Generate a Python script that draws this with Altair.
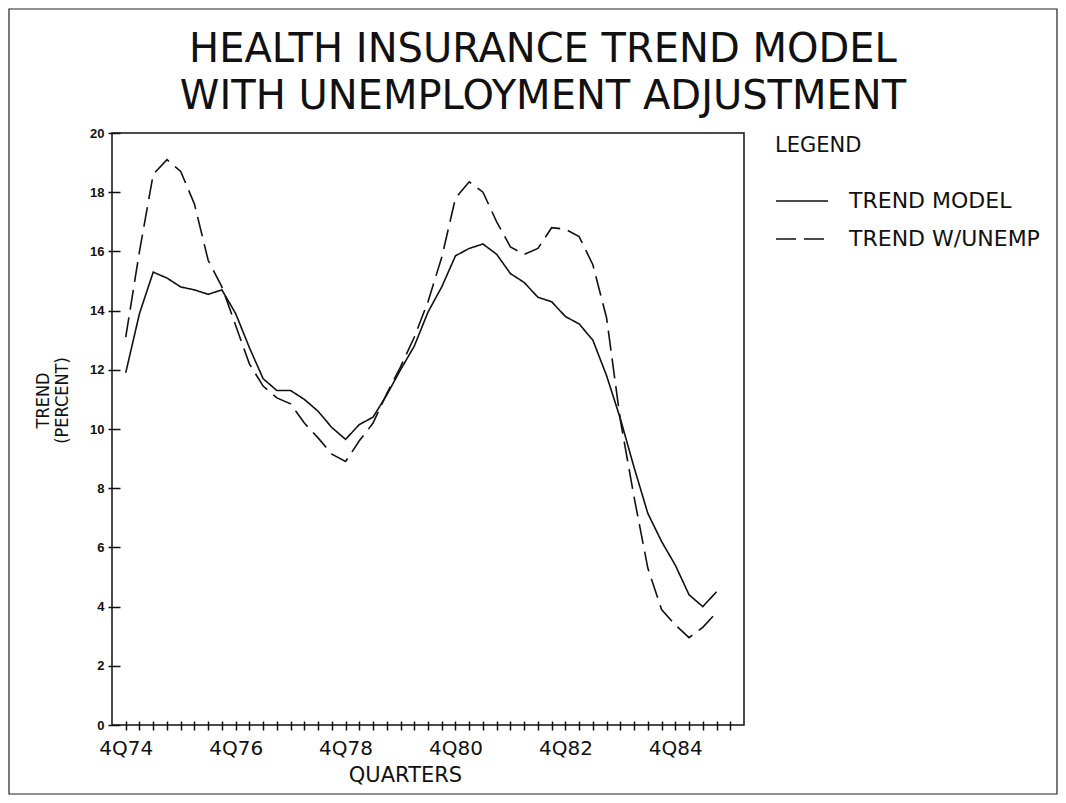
import json
import altair as alt
import pandas as pd

# quarter index: 0 = 4Q74, 1 = 1Q75, ...
quarters = list(range(44))
trend_model = [11.9, 13.9, 15.3, 15.1, 14.8, 14.7, 14.55, 14.7, 13.9, 12.75,
               11.7, 11.3, 11.3, 11.0, 10.6, 10.05, 9.65, 10.15, 10.4, 11.15,
               12.0, 12.8, 13.95, 14.8, 15.85, 16.1, 16.25, 15.9, 15.25, 14.95,
               14.45, 14.3, 13.8, 13.55, 13.0, 11.8, 10.35, 8.7, 7.15, 6.2,
               5.4, 4.4, 4.0, 4.5]
trend_unemp = [13.1, 16.0, 18.6, 19.1, 18.7, 17.6, 15.7, 14.8, 13.5, 12.2,
               11.45, 11.05, 10.85, 10.2, 9.7, 9.15, 8.9, 9.6, 10.2, 11.2,
               12.1, 13.1, 14.3, 15.8, 17.8, 18.35, 18.0, 17.0, 16.15, 15.9,
               16.1, 16.8, 16.75, 16.5, 15.55, 13.75, 10.3, 7.7, 5.3, 3.9,
               3.38, 2.95, 3.3, 3.8]
series_names = ["TREND MODEL", "TREND W/UNEMP"]
x_tick_values = list(range(45))
x_labels = ["4Q74", "4Q76", "4Q78", "4Q80", "4Q82", "4Q84"]
y_tick_values = list(range(0, 21, 2))
title_lines = ["HEALTH INSURANCE TREND MODEL", "WITH UNEMPLOYMENT ADJUSTMENT"]

rows = []
for q, a, b in zip(quarters, trend_model, trend_unemp):
    rows.append({"quarter": q, "value": a, "series": series_names[0]})
    rows.append({"quarter": q, "value": b, "series": series_names[1]})
df = pd.DataFrame(rows)

label_expr = f"datum.value % 8 == 0 ? {json.dumps(x_labels)}[datum.value / 8] : ''"

lines = alt.Chart(df).mark_line(color="#111111", strokeWidth=1.6).encode(
    x=alt.X("quarter:Q",
            scale=alt.Scale(domain=[-1, 45], nice=False, zero=False),
            axis=alt.Axis(values=x_tick_values, labelExpr=label_expr,
                          offset=-4, tickSize=9, tickWidth=1.5, tickColor="#111",
                          domain=False, grid=False, labelOverlap=False, labelFlush=False,
                          labelFont="DejaVu Sans", labelFontSize=20, labelColor="#111",
                          labelPadding=8,
                          title="QUARTERS", titleFont="DejaVu Sans", titleFontSize=21,
                          titleFontWeight="normal", titleColor="#111",
                          titleX=293, titleY=43)),
    y=alt.Y("value:Q",
            scale=alt.Scale(domain=[0, 20], nice=False),
            axis=alt.Axis(values=y_tick_values, offset=-8, tickSize=12, tickWidth=1.5,
                          tickColor="#111", domain=False, grid=False,
                          labelFont="Liberation Sans", labelFontWeight="bold",
                          labelFontSize=13, labelColor="#111", labelPadding=4,
                          title=["TREND", "(PERCENT)"],
                          titleFont="Liberation Sans Narrow, DejaVu Sans Condensed, sans-serif",
                          titleFontSize=18, titleFontWeight="normal", titleColor="#111",
                          titleX=-68, titleY=267, titleLineHeight=19)),
    strokeDash=alt.StrokeDash("series:N",
                              scale=alt.Scale(domain=series_names, range=[[1, 0], [20, 8]]),
                              legend=alt.Legend(title="LEGEND", orient="none",
                                                legendX=663, legendY=2, padding=0,
                                                titleFont="DejaVu Sans", titleFontSize=21,
                                                titleFontWeight="normal", titleColor="#111",
                                                titlePadding=18,
                                                labelFont="DejaVu Sans", labelFontSize=22,
                                                labelColor="#111", labelOffset=20,
                                                labelLimit=400,
                                                symbolType="stroke", symbolSize=2700,
                                                symbolStrokeWidth=1.5, symbolStrokeColor="#111",
                                                rowPadding=-16)),
)

frame = alt.Chart(pd.DataFrame({"a": [0]})).mark_rect(
    filled=False, stroke="#222", strokeWidth=1.2
).encode(x=alt.value(-103), x2=alt.value(945), y=alt.value(-124), y2=alt.value(661))

title_df = pd.DataFrame({"line": [0, 1], "text": title_lines})
title1 = alt.Chart(title_df).transform_filter("datum.line == 0").mark_text(
    font="DejaVu Sans", fontSize=40, color="#111", align="center", baseline="middle"
).encode(text="text:N", x=alt.value(431), y=alt.value(-83))
title2 = alt.Chart(title_df).transform_filter("datum.line == 1").mark_text(
    font="DejaVu Sans", fontSize=40, color="#111", align="center", baseline="middle"
).encode(text="text:N", x=alt.value(431), y=alt.value(-36))

chart = alt.layer(frame, title1, title2, lines).properties(
    width=632, height=592,
    padding={"left": 104, "top": 125, "right": 314, "bottom": 70},
    autosize=alt.AutoSizeParams(type="none"),
    background="white",
).configure_view(stroke="#111", strokeWidth=1.5)

chart.save("out.html", embed_options={"renderer": "svg", "actions": False})
